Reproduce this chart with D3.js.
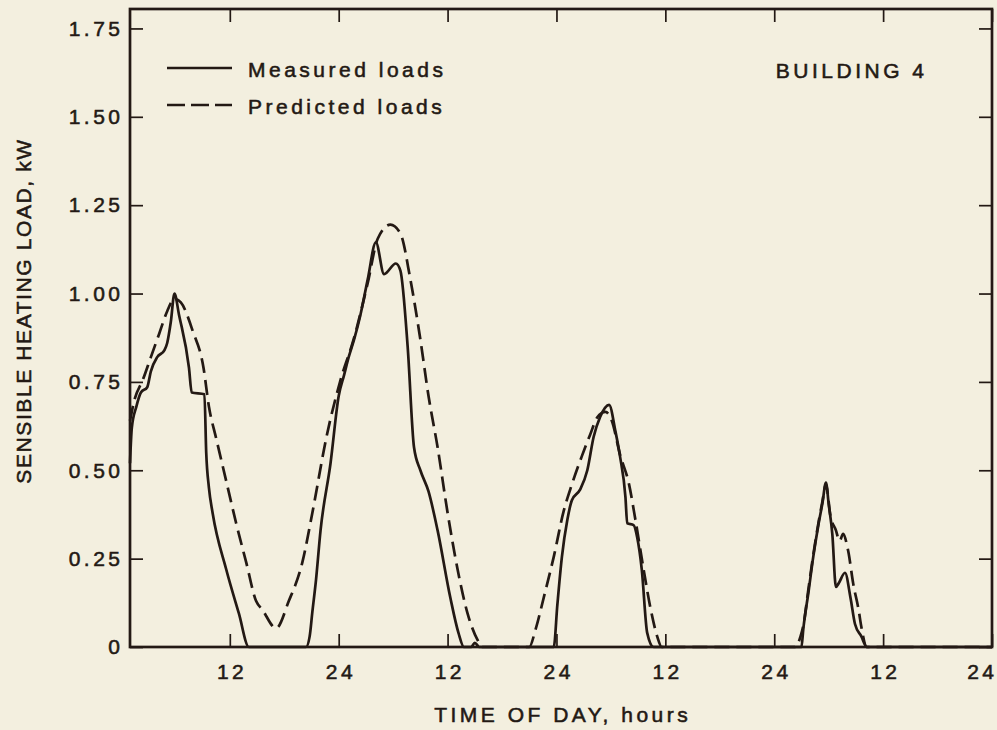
<!DOCTYPE html>
<html>
<head>
<meta charset="utf-8">
<script src="https://cdn.jsdelivr.net/npm/d3@7"></script>
<style>
    body { margin: 0; background: #f3efdf; }
    svg { display: block; }
    text { font-family: "Liberation Sans", Arial, sans-serif; fill: #231914; stroke: #231914; stroke-width: 0.55px; }
</style>
</head>
<body>
<svg id="LoadChart"></svg>
<script>
// hour of the 4-day run, load in kW
const measured = [
    [1.0, 0.52], [1.2, 0.62], [1.7, 0.68], [2.2, 0.72], [2.9, 0.735], [3.3, 0.78], [4.0, 0.82],
    [4.8, 0.84], [5.1, 0.86], [5.5, 0.92], [5.9, 1.00], [6.4, 0.94], [7.5, 0.79], [7.8, 0.72],
    [9.2, 0.715], [9.4, 0.55], [9.7, 0.45], [10.1, 0.38], [11.6, 0.22], [13.0, 0.095], [14.1, 0],
    [20.4, 0], [20.8, 0.03], [21.1, 0.1], [21.5, 0.19], [22.0, 0.33], [23.1, 0.52], [24.0, 0.71],
    [24.6, 0.77], [25.1, 0.82], [25.7, 0.87], [26.4, 0.94], [27.2, 1.04], [28.1, 1.145],
    [29.0, 1.055], [30.3, 1.085], [30.8, 1.065], [31.6, 0.85], [32.3, 0.565], [33.0, 0.50],
    [33.9, 0.44], [34.9, 0.33], [36.3, 0.14], [37.2, 0.04], [37.8, 0], [38.6, 0], [39.0, 0.012],
    [39.5, 0], [47.7, 0], [48.1, 0.12], [48.6, 0.255], [49.2, 0.36], [49.7, 0.415], [50.6, 0.445],
    [51.4, 0.50], [52.1, 0.595], [52.8, 0.65], [53.8, 0.685], [54.5, 0.61], [55.0, 0.54],
    [55.6, 0.425], [55.8, 0.35], [56.5, 0.345], [56.9, 0.31], [57.4, 0.22], [58.0, 0.04],
    [58.7, 0], [75.0, 0], [75.2, 0.05], [75.8, 0.16], [76.3, 0.255], [76.9, 0.35], [77.3, 0.405],
    [77.7, 0.465], [78.0, 0.405], [78.4, 0.32], [78.8, 0.17], [79.1, 0.18], [79.8, 0.21],
    [80.4, 0.14], [80.9, 0.065], [81.6, 0.03], [82.2, 0], [96, 0]
];

const predicted = [
    [1.0, 0.64], [1.5, 0.70], [2.4, 0.755], [3.3, 0.82], [4.2, 0.885], [5.1, 0.95], [5.9, 0.985],
    [6.6, 0.975], [7.9, 0.895], [9.1, 0.79], [9.7, 0.68], [10.5, 0.59], [11.6, 0.47], [12.7, 0.35],
    [13.8, 0.24], [14.9, 0.13], [15.6, 0.105], [17.1, 0.053], [18.5, 0.13], [20.0, 0.24],
    [21.1, 0.38], [22.7, 0.60], [24.2, 0.755], [25.7, 0.875], [27.2, 1.03], [28.3, 1.155],
    [29.7, 1.195], [30.8, 1.17], [31.9, 1.04], [33.0, 0.87], [33.9, 0.71], [34.9, 0.565],
    [36.0, 0.38], [37.1, 0.22], [38.2, 0.095], [39.3, 0.02], [39.8, 0], [45.0, 0], [45.7, 0.05],
    [46.6, 0.14], [47.7, 0.255], [48.8, 0.385], [49.7, 0.46], [50.8, 0.54], [51.7, 0.60],
    [52.5, 0.65], [53.4, 0.665], [54.1, 0.64], [55.0, 0.545], [56.0, 0.46], [56.7, 0.36],
    [57.6, 0.22], [58.4, 0.105], [59.1, 0.03], [59.6, 0], [74.3, 0], [74.9, 0.03], [75.2, 0.06],
    [75.8, 0.17], [76.3, 0.26], [76.9, 0.355], [77.3, 0.41], [77.7, 0.46], [78.2, 0.37],
    [78.8, 0.33], [79.2, 0.30], [79.6, 0.32], [80.0, 0.29], [80.2, 0.265], [80.7, 0.18],
    [81.3, 0.105], [81.6, 0.057], [82.2, 0], [96, 0]
];

const yTicks = [0, 0.25, 0.5, 0.75, 1.0, 1.25, 1.5, 1.75];
const yTickLabels = ["0", "0.25", "0.50", "0.75", "1.00", "1.25", "1.50", "1.75"];
const xTicks = [12, 24, 36, 48, 60, 72, 84, 96];
const xTickLabels = ["12", "24", "12", "24", "12", "24", "12", "24"];
const seriesNames = ["Measured loads", "Predicted loads"];

const INK = "#231914";

class LoadChart {
    constructor(width, height) {
        this.width = width;
        this.height = height;
        this.margin = {top: 9, right: 5, bottom: 83, left: 130};
        this.svg = d3.select("#LoadChart")
            .attr("width", width)
            .attr("height", height);

        this.svg.append("rect")
            .attr("width", width)
            .attr("height", height)
            .attr("fill", "#f3efdf");

        this.initScales();
        this.plotLines();
        this.plotAxes();
        this.plotLegend();
        this.plotTitles();
    }

    initScales() {
        let m = this.margin;
        this.x = d3.scaleLinear()
            .domain([1, 96])
            .range([m.left, this.width - m.right]);
        this.y = d3.scaleLinear()
            .domain([0, 1.805])
            .range([this.height - m.bottom, m.top]);
    }

    plotLines() {
        let line = d3.line()
            .x(d => this.x(d[0]))
            .y(d => this.y(d[1]))
            .curve(d3.curveMonotoneX);

        this.svg.append("path")
            .datum(predicted)
            .attr("fill", "none")
            .attr("stroke", INK)
            .attr("stroke-width", 2.7)
            .attr("stroke-dasharray", "15,7")
            .attr("d", line);

        this.svg.append("path")
            .datum(measured)
            .attr("fill", "none")
            .attr("stroke", INK)
            .attr("stroke-width", 2.7)
            .attr("stroke-linejoin", "round")
            .attr("d", line);
    }

    plotAxes() {
        let x = this.x, y = this.y;
        let x0 = x.range()[0], x1 = x.range()[1];
        let y0 = y.range()[0], y1 = y.range()[1];

        let bottom = this.svg.append("g")
            .attr("transform", `translate(0,${y0})`)
            .call(d3.axisBottom(x)
                .tickValues(xTicks)
                .tickSize(-13)
                .tickSizeOuter(0)
                .tickPadding(17)
                .tickFormat((d, i) => xTickLabels[i]));

        let left = this.svg.append("g")
            .attr("transform", `translate(${x0},0)`)
            .call(d3.axisLeft(y)
                .tickValues(yTicks)
                .tickSize(-13)
                .tickSizeOuter(0)
                .tickPadding(10)
                .tickFormat((d, i) => yTickLabels[i]));

        let top = this.svg.append("g")
            .attr("transform", `translate(0,${y1})`)
            .call(d3.axisTop(x).tickValues(xTicks).tickSize(-13).tickSizeOuter(0).tickFormat(""));

        let right = this.svg.append("g")
            .attr("transform", `translate(${x1},0)`)
            .call(d3.axisRight(y).tickValues(yTicks).tickSize(-13).tickSizeOuter(0).tickFormat(""));

        [bottom, left, top, right].forEach(g => {
            g.select(".domain").remove();
            g.selectAll(".tick line").attr("stroke", INK).attr("stroke-width", 1.7);
            g.selectAll(".tick text")
                .attr("fill", INK)
                .attr("font-size", 21)
                .attr("letter-spacing", "3.5px")
                .attr("font-family", null);
        });
        bottom.selectAll(".tick text").attr("dx", "1.75");
        left.selectAll(".tick text").attr("dx", "3.5");

        // last label sits against the right edge, as in the print
        bottom.selectAll(".tick text")
            .filter(d => d === xTicks[xTicks.length - 1])
            .attr("text-anchor", "end")
            .attr("dx", "5");

        this.svg.append("rect")
            .attr("x", x0)
            .attr("y", y1)
            .attr("width", x1 - x0)
            .attr("height", y0 - y1)
            .attr("fill", "none")
            .attr("stroke", INK)
            .attr("stroke-width", 2.7);
    }

    plotLegend() {
        let rows = this.svg.append("g")
            .selectAll("g")
            .data(seriesNames)
            .join("g")
            .attr("transform", (d, i) => `translate(167,${68 + i * 37})`);

        rows.append("line")
            .attr("x1", 0)
            .attr("x2", 65)
            .attr("stroke", INK)
            .attr("stroke-width", 2.7)
            .attr("stroke-dasharray", (d, i) => i ? "18,6" : null);

        rows.append("text")
            .attr("x", 81)
            .attr("y", 9)
            .attr("font-size", 21)
            .attr("letter-spacing", "3.5px")
            .text(d => d);
    }

    plotTitles() {
        let x = this.x;

        this.svg.append("text")
            .attr("x", 927.5)
            .attr("y", 78)
            .attr("text-anchor", "end")
            .attr("font-size", 21)
            .attr("letter-spacing", "3.5px")
            .text("BUILDING 4");

        this.svg.append("text")
            .attr("x", (x.range()[0] + x.range()[1]) / 2 + 1.75)
            .attr("y", 722)
            .attr("text-anchor", "middle")
            .attr("font-size", 21)
            .attr("letter-spacing", "3.5px")
            .text("TIME OF DAY, hours");

        this.svg.append("text")
            .attr("transform", "translate(31,311) rotate(-90)")
            .attr("text-anchor", "middle")
            .attr("font-size", 21)
            .attr("letter-spacing", "1.6px")
            .text("SENSIBLE HEATING LOAD, kW");
    }
}

new LoadChart(997, 730);
</script>
</body>
</html>
